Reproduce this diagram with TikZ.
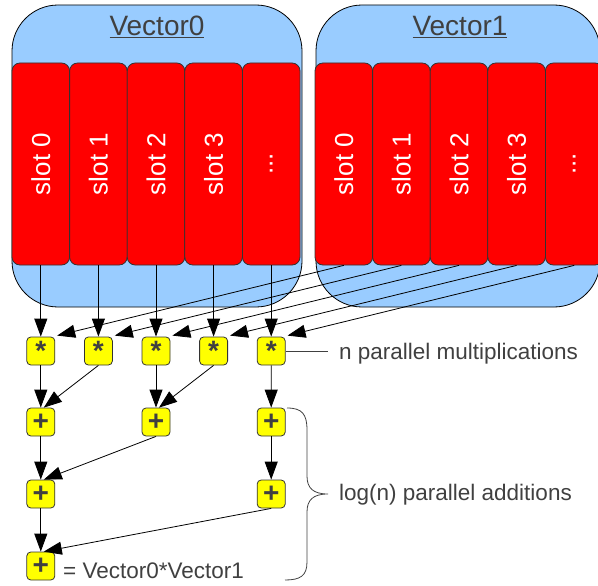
\documentclass[tikz,border=0pt]{standalone}
\usepackage{fontspec}
\setmainfont{Liberation Sans}
\usetikzlibrary{arrows.meta}
\definecolor{vecblue}{HTML}{99CCFF}
\definecolor{slotred}{HTML}{FF0000}
\definecolor{opyellow}{HTML}{FFFF00}
\definecolor{ink}{HTML}{404040}
\newcommand\slotdots{...}
\tikzset{
  vecbox/.style={draw=black, line width=0.8pt, fill=vecblue, rounded corners=46pt,
    minimum height=302pt, inner sep=0pt},
  slotbox/.style={draw=black!80, line width=0.8pt, fill=slotred, rounded corners=8pt,
    minimum width=57.6pt, minimum height=202pt, inner sep=0pt},
  slottext/.style={text=white, rotate=90, font=\fontsize{26}{30}\selectfont},
  title/.style={text=ink, font=\fontsize{28}{32}\selectfont},
  opbox/.style={draw=black!80, line width=0.8pt, fill=opyellow, rounded corners=4pt,
    minimum width=28pt, minimum height=28pt, inner sep=0pt, text=ink,
    font=\fontsize{28}{28}\selectfont\bfseries},
  note/.style={text=ink, anchor=west, inner sep=0pt, font=\fontsize{22.5}{26}\selectfont},
  arr/.style={line width=0.8pt, -{Triangle[length=18pt,width=13pt]}},
  thin line/.style={line width=0.8pt, draw=ink}
}
\begin{document}
\begin{tikzpicture}[x=1pt, y=-1pt]
\useasboundingbox (0,0) rectangle (598,586);

% the two vectors
\node[vecbox, minimum width=290pt] (v0) at (157,156) {};
\node[vecbox, minimum width=284pt] (v1) at (458,156) {};
\node[title] (t0) at (157,27) {\underline{Vector0}};
\node[title] (t1) at (460,27) {\underline{Vector1}};

% slots of each vector
\foreach \i/\lab in {0/slot 0,1/slot 1,2/slot 2,3/slot 3,4/\slotdots} {
  \node[slotbox] (a\i) at ({40.8+57.6*\i},164) {};
  \node[slottext] (ta\i) at (a\i) {\lab};
  \node[slotbox] (b\i) at ({343.8+57.6*\i},164) {};
  \node[slottext] (tb\i) at (b\i) {\lab};
}

% multiplications
\foreach \i in {0,1,2,3,4} {
  \node[opbox] (m\i) at ({40.8+57.6*\i},351) {\raisebox{-4pt}{*}};
}

% additions
\node[opbox] (p1) at (40.8,422) {+};
\node[opbox] (p2) at (156,422) {+};
\node[opbox] (p3) at (271.2,422) {+};
\node[opbox] (q1) at (40.8,494) {+};
\node[opbox] (q2) at (271.2,494) {+};
\node[opbox] (r) at (40.8,566) {+};

% operands into the multiplications
\foreach \i in {0,1,2,3,4} {
  \draw[arr] (a\i.south) -- (m\i.north);
  \draw[arr] (b\i.south) -- ([shift={(2,-1)}]m\i.north east);
}

% reduction tree
\draw[arr] (m0.south) -- (p1.north);
\draw[arr] (m1.south) -- ([xshift=3pt]p1.north);
\draw[arr] (m2.south) -- (p2.north);
\draw[arr] (m3.south) -- ([xshift=3pt]p2.north);
\draw[arr] (m4.south) -- (p3.north);
\draw[arr] (p1.south) -- (q1.north);
\draw[arr] (p2.south) -- ([xshift=3pt]q1.north);
\draw[arr] (p3.south) -- (q2.north);
\draw[arr] (q1.south) -- (r.north);
\draw[arr] (q2.south) -- ([xshift=3pt]r.north);

% annotations
\coordinate (mulend) at (328,351);
\draw[thin line] (m4.east) -- (mulend);
\node[note] (mulnote) at (339,354) {n parallel multiplications};

\coordinate (btop) at (287,408);
\coordinate (btip) at (328,494);
\coordinate (bbot) at (285,580);
\draw[thin line] (btop) .. controls (302,408) and (307,414) .. (307,430)
  -- (307,476) .. controls (307,488) and (313,494) .. (btip)
  .. controls (313,494) and (307,500) .. (307,512)
  -- (307,562) .. controls (307,576) and (300,580) .. (bbot);
\node[note] (addnote) at (339,495) {log(n) parallel additions};

\node[note] (result) at (63,571) {= Vector0*Vector1};
\end{tikzpicture}
\end{document}
